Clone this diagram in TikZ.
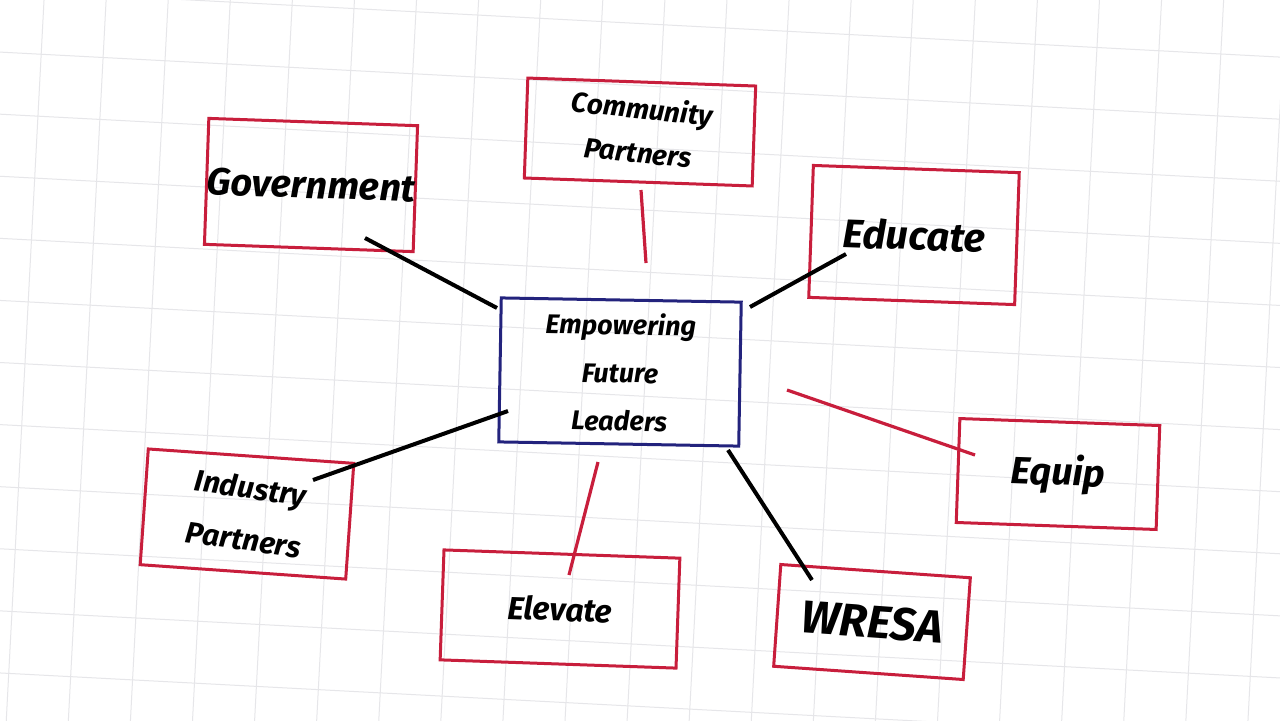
\documentclass[tikz,border=0pt]{standalone}
\usepackage{fontspec}
\setmainfont{Fira Sans}
\begin{document}
\begin{tikzpicture}[x=0.5pt,y=-0.5pt,
  redbox/.style={draw=boxred,line width=1.5pt,inner sep=0pt,align=center},
  bluebox/.style={draw=boxblue,line width=1.5pt,inner sep=0pt,align=center},
  blackline/.style={draw=black,line width=2pt},
  redline/.style={draw=boxred,line width=1.6pt},
]
\definecolor{boxred}{RGB}{200,30,60}
\definecolor{boxblue}{RGB}{35,35,125}
\definecolor{gridgray}{RGB}{230,230,233}
\useasboundingbox (0,0) rectangle (1280,720);
\fill[white] (0,0) rectangle (1280,720);
% grid
\begin{scope}
\clip (0,0) rectangle (1280,720);
\begin{scope}[rotate around={-3:(640,360)}]
\foreach \x in {-160,-98,...,1440} \draw[gridgray,line width=0.5pt] (\x,-100) -- (\x,820);
\foreach \y in {-100,-38,...,820} \draw[gridgray,line width=0.5pt] (-160,\y) -- (1440,\y);
\end{scope}
\end{scope}

% centre
\node[bluebox,minimum width=120pt,minimum height=72pt,rotate=-1,
  font=\bfseries\itshape\fontsize{13.5}{24}\selectfont] (ctr) at (620,372)
  {Empowering\\ Future\\ Leaders};

% outer boxes
\node[redbox,minimum width=103pt,minimum height=63pt,rotate=-2,
  font=\bfseries\itshape\fontsize{19}{22}\selectfont] (gov) at (311,185)
  {Government};
\node[redbox,minimum width=114pt,minimum height=50pt,rotate=-2,
  font=\bfseries\itshape\fontsize{14}{22}\selectfont] (com) at (640,132)
  {\rotatebox{-4}{\begin{tabular}{c}Community\\ Partners\end{tabular}}};
\node[redbox,minimum width=103pt,minimum height=66pt,rotate=-2,
  font=\bfseries\itshape\fontsize{20}{24}\selectfont] (edu) at (914,235)
  {Educate};
\node[redbox,minimum width=100pt,minimum height=52pt,rotate=-2,
  font=\bfseries\itshape\fontsize{19}{24}\selectfont] (equ) at (1058,474)
  {Equip};
\node[redbox,minimum width=95pt,minimum height=51pt,rotate=-4,
  font=\bfseries\itshape\fontsize{23}{26}\selectfont] (wre) at (872,622)
  {WRESA};
\node[redbox,minimum width=118pt,minimum height=55pt,rotate=-2,
  font=\bfseries\itshape\fontsize{16}{20}\selectfont] (ele) at (560,609)
  {Elevate};
\node[redbox,minimum width=103pt,minimum height=58pt,rotate=-4,
  font=\bfseries\itshape\fontsize{15}{26}\selectfont] (ind) at (247,514)
  {\rotatebox{-4}{\begin{tabular}{c}Industry\\ Partners\end{tabular}}};

% connector end points
\coordinate (govA) at (365,238);  \coordinate (govB) at (497,308);
\coordinate (comA) at (641,190);  \coordinate (comB) at (646,263);
\coordinate (eduA) at (846,254);  \coordinate (eduB) at (750,307);
\coordinate (equA) at (975,455);  \coordinate (equB) at (787,390);
\coordinate (wreA) at (812,580);  \coordinate (wreB) at (728,450);
\coordinate (eleA) at (569,575);  \coordinate (eleB) at (598,462);
\coordinate (indA) at (313,480);  \coordinate (indB) at (508,411);

\draw[blackline] (govA) -- (govB);
\draw[redline] (comA) -- (comB);
\draw[blackline] (eduA) -- (eduB);
\draw[redline] (equA) -- (equB);
\draw[blackline] (wreA) -- (wreB);
\draw[redline] (eleA) -- (eleB);
\draw[blackline] (indA) -- (indB);
\end{tikzpicture}
\end{document}
